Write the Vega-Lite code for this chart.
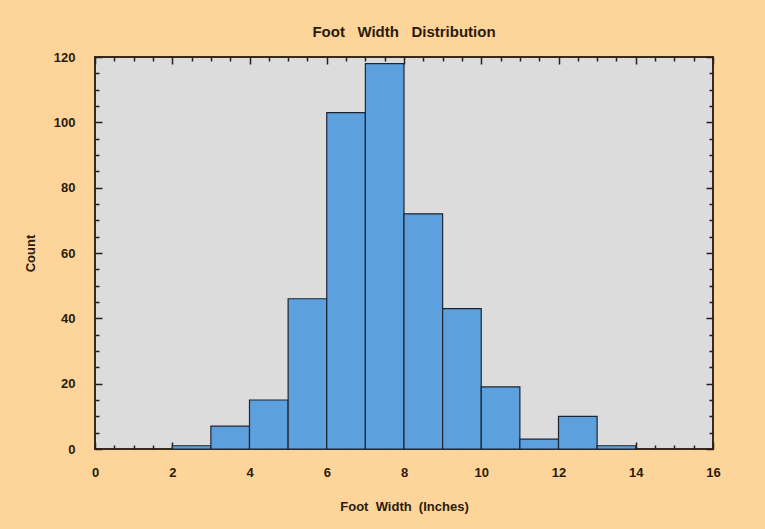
{
  "$schema": "https://vega.github.io/schema/vega-lite/v6.json",
  "width": 618,
  "height": 392,
  "autosize": {"type": "none"},
  "padding": {"left": 95, "top": 57, "right": 52, "bottom": 80},
  "background": "#fdd59b",
  "config": {
    "font": "Liberation Sans",
    "view": {"stroke": "#3a2a1a", "strokeWidth": 2, "fill": "#dcdcdc"},
    "axis": {
      "domain": false,
      "grid": false,
      "labelFlush": false,
      "tickColor": "#2b1e12",
      "tickWidth": 1.5,
      "labelFont": "Liberation Sans",
      "labelFontWeight": "bold",
      "labelFontSize": 13,
      "labelColor": "#2b1a0b",
      "titleFont": "Liberation Sans",
      "titleFontWeight": "bold",
      "titleFontSize": 13,
      "titleColor": "#2b1a0b"
    }
  },
  "title": {
    "text": "Foot\u00a0\u00a0\u00a0Width\u00a0\u00a0\u00a0Distribution",
    "fontSize": 15,
    "fontWeight": "bold",
    "color": "#2b1a0b",
    "anchor": "middle",
    "offset": 11
  },
  "data": {
    "values": [
      {"start": 2, "end": 3, "count": 1},
      {"start": 3, "end": 4, "count": 7},
      {"start": 4, "end": 5, "count": 15},
      {"start": 5, "end": 6, "count": 46},
      {"start": 6, "end": 7, "count": 103},
      {"start": 7, "end": 8, "count": 118},
      {"start": 8, "end": 9, "count": 72},
      {"start": 9, "end": 10, "count": 43},
      {"start": 10, "end": 11, "count": 19},
      {"start": 11, "end": 12, "count": 3},
      {"start": 12, "end": 13, "count": 10},
      {"start": 13, "end": 14, "count": 1}
    ]
  },
  "layer": [
    {
      "mark": {"type": "bar", "fill": "#5ca1de", "stroke": "#1c2530", "strokeWidth": 1.2},
      "encoding": {
        "x": {
          "field": "start", "type": "quantitative",
          "scale": {"domain": [0, 16], "nice": false},
          "axis": {"orient": "bottom", "values": [0, 2, 4, 6, 8, 10, 12, 14, 16], "tickSize": -7, "labelPadding": 24, "title": "Foot\u00a0\u00a0Width\u00a0\u00a0(Inches)", "titlePadding": 21}
        },
        "x2": {"field": "end"},
        "y": {
          "field": "count", "type": "quantitative",
          "scale": {"domain": [0, 120], "nice": false},
          "axis": {"orient": "left", "values": [0, 20, 40, 60, 80, 100, 120], "tickSize": -7, "labelPadding": 27, "title": "Count", "titlePadding": 16}
        },
        "y2": {"datum": 0}
      }
    },
    {
      "mark": {"type": "bar", "opacity": 0},
      "encoding": {
        "x": {"field": "start", "type": "quantitative", "axis": {"orient": "top", "values": [0, 2, 4, 6, 8, 10, 12, 14, 16], "tickSize": -7, "labels": false, "title": null}},
        "x2": {"field": "end"},
        "y": {"field": "count", "type": "quantitative", "axis": {"orient": "right", "values": [0, 20, 40, 60, 80, 100, 120], "tickSize": -7, "labels": false, "title": null}},
        "y2": {"datum": 0}
      }
    },
    {
      "mark": {"type": "bar", "opacity": 0},
      "encoding": {
        "x": {"field": "start", "type": "quantitative", "axis": {"orient": "bottom", "values": [0.5, 1, 1.5, 2.5, 3, 3.5, 4.5, 5, 5.5, 6.5, 7, 7.5, 8.5, 9, 9.5, 10.5, 11, 11.5, 12.5, 13, 13.5, 14.5, 15, 15.5], "tickSize": -4, "labels": false, "title": null}},
        "x2": {"field": "end"},
        "y": {"field": "count", "type": "quantitative", "axis": {"orient": "left", "values": [5, 10, 15, 25, 30, 35, 45, 50, 55, 65, 70, 75, 85, 90, 95, 105, 110, 115], "tickSize": -4, "labels": false, "title": null}},
        "y2": {"datum": 0}
      }
    },
    {
      "mark": {"type": "bar", "opacity": 0},
      "encoding": {
        "x": {"field": "start", "type": "quantitative", "axis": {"orient": "top", "values": [0.5, 1, 1.5, 2.5, 3, 3.5, 4.5, 5, 5.5, 6.5, 7, 7.5, 8.5, 9, 9.5, 10.5, 11, 11.5, 12.5, 13, 13.5, 14.5, 15, 15.5], "tickSize": -4, "labels": false, "title": null}},
        "x2": {"field": "end"},
        "y": {"field": "count", "type": "quantitative", "axis": {"orient": "right", "values": [5, 10, 15, 25, 30, 35, 45, 50, 55, 65, 70, 75, 85, 90, 95, 105, 110, 115], "tickSize": -4, "labels": false, "title": null}},
        "y2": {"datum": 0}
      }
    }
  ],
  "resolve": {"axis": {"x": "independent", "y": "independent"}}
}
